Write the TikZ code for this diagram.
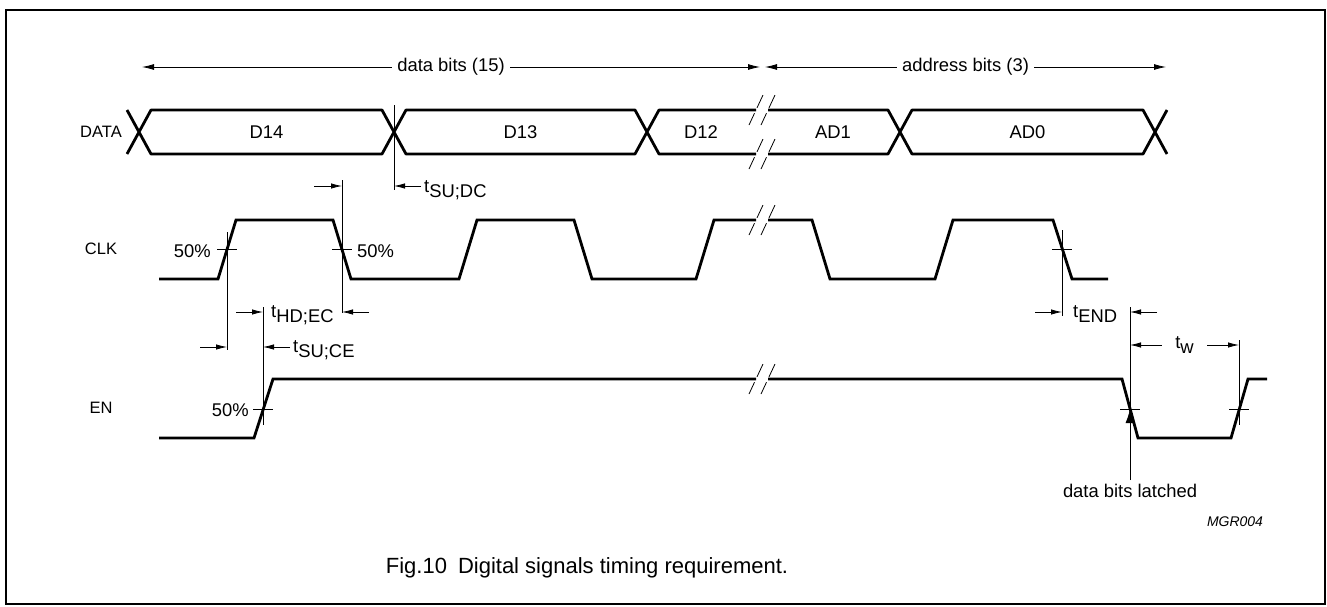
\documentclass[tikz,border=0pt]{standalone}
\usepackage{fontspec}
\setmainfont{Liberation Sans}
\usetikzlibrary{arrows.meta}
\newcommand{\tsub}[1]{t\raisebox{-0.32em}{#1}}
\begin{document}
\begin{tikzpicture}[x=1pt,y=-1pt,
    every node/.style={font=\fontsize{18.4}{22}\selectfont,inner sep=0pt},
    wave/.style={line width=2.8pt,line join=miter},
    bus/.style={line width=2.8pt,line join=round},
    thinline/.style={line width=0.8pt},
    dimarrow/.style={line width=0.8pt,-{Latex[length=11pt,width=5.5pt]}},
    brk/.style={line width=0.8pt,dash pattern=on 13pt off 6pt on 14pt},
    rowlabel/.style={font=\fontsize{16.5}{20}\selectfont}]
  \useasboundingbox (0,0) rectangle (1327,606);
  \draw[line width=2pt] (6,10) rectangle (1325,604);

  \coordinate (dbl) at (142,67);
  \coordinate (dbr) at (760,67);
  \coordinate (abl) at (765,67);
  \coordinate (abr) at (1166,67);
  \draw[line width=0.8pt,{Latex[length=12pt,width=6pt]}-{Latex[length=12pt,width=6pt]}]
    (dbl) -- node[fill=white,inner xsep=5pt] (databits) {data bits (15)} (dbr);
  \draw[line width=0.8pt,{Latex[length=12pt,width=6pt]}-{Latex[length=12pt,width=6pt]}]
    (abl) -- node[fill=white,inner xsep=5pt] (addrbits) {address bits (3)} (abr);

  \node[rowlabel] (data) at (101,132) {DATA};
  \node[rowlabel] (clk) at (101,249) {CLK};
  \node[rowlabel] (en) at (101,408) {EN};

  \foreach \a/\b/\t/\n in {139/394/D14/d14,394/647/D13/d13,900/1155/AD0/ad0} {
    \draw[bus] (\a,132) -- (\a+12,110) -- (\b-12,110) -- (\b,132) -- (\b-12,154) -- (\a+12,154) -- cycle;
    \node (\n) at ({(\a+\b)/2},132) {\t};
  }
  \draw[bus] (127,110) -- (139,132) -- (127,154);
  \draw[bus] (1167,110) -- (1155,132) -- (1167,154);
  \draw[bus] (756,110) -- (659,110) -- (647,132) -- (659,154) -- (756,154);
  \draw[bus] (768,110) -- (888,110) -- (900,132) -- (888,154) -- (768,154);
  \node (d12) at (701,132) {D12};
  \node (ad1) at (833,132) {AD1};

  \draw[wave] (159,279) -- (218,279) -- (236,220) -- (333,220) -- (351,279) -- (459,279)
    -- (477,220) -- (574,220) -- (592,279) -- (696,279) -- (714,220) -- (756,220);
  \draw[wave] (768,220) -- (812,220) -- (830,279) -- (935,279) -- (953,220) -- (1053,220)
    -- (1072,279) -- (1108,279);

  \draw[wave] (159,438) -- (254,438) -- (273,379) -- (756,379);
  \draw[wave] (768,379) -- (1122,379) -- (1138,438) -- (1231,438) -- (1248,379) -- (1267,379);

  \foreach \y in {110,154,220,379} {
    \draw[brk] (749,\y+15) -- (763,\y-15);
    \draw[brk] (761,\y+15) -- (775,\y-15);
  }

  \foreach \x/\y in {227/249,342/249,1062/249,263/409,1130/409,1239/409}
    \draw[thinline] (\x-10,\y) -- (\x+10,\y);

  \draw[thinline] (394,105) -- (394,190);
  \draw[thinline] (227,232) -- (227,350);
  \draw[thinline] (342,180) -- (342,313);
  \draw[thinline] (263,307) -- (263,425);
  \draw[thinline] (1062,230) -- (1062,316);
  \draw[thinline] (1130,307) -- (1130,409);
  \draw[thinline] (1239,340) -- (1239,425);

  \node (fifty1) [anchor=base east] at (211,257) {50\%};
  \node (fifty2) [anchor=base west] at (357,257) {50\%};
  \node (fifty3) [anchor=base east] at (249,416) {50\%};

  \draw[dimarrow] (314,186) -- (342,186);
  \draw[dimarrow] (421,186) -- (394,186);
  \node (tsudc) [anchor=base west] at (424,192) {\tsub{SU;DC}};

  \draw[dimarrow] (236,312) -- (263,312);
  \draw[dimarrow] (369,312) -- (342,312);
  \node (thdec) [anchor=base west] at (271,317) {\tsub{HD;EC}};

  \draw[dimarrow] (200,347) -- (227,347);
  \draw[dimarrow] (290,347) -- (263,347);
  \node (tsuce) [anchor=base west] at (293,352) {\tsub{SU;CE}};

  \draw[dimarrow] (1035,312) -- (1062,312);
  \draw[dimarrow] (1157,312) -- (1130,312);
  \node (tend) [anchor=base west] at (1073,317) {\tsub{END}};

  \coordinate (twl) at (1130,345);
  \coordinate (twr) at (1239,345);
  \draw[line width=0.8pt,{Latex[length=11pt,width=5.5pt]}-{Latex[length=11pt,width=5.5pt]}]
    (twl) -- node[fill=white,inner xsep=13pt,inner ysep=2pt] (tw) {\tsub{w}} (twr);

  \coordinate (latch) at (1130,480);
  \draw[line width=0.8pt,-{Latex[length=14pt,width=9pt]}] (latch) -- (1130,409);
  \node (latched) at (1130,491) {data bits latched};

  \node[font=\fontsize{14}{16}\selectfont\itshape] (mgr) at (1235,522) {MGR004};
  \node[font=\fontsize{22}{26}\selectfont] (caption) at (587,568) {Fig.10\hspace{0.5em}Digital signals timing requirement.};
\end{tikzpicture}
\end{document}
